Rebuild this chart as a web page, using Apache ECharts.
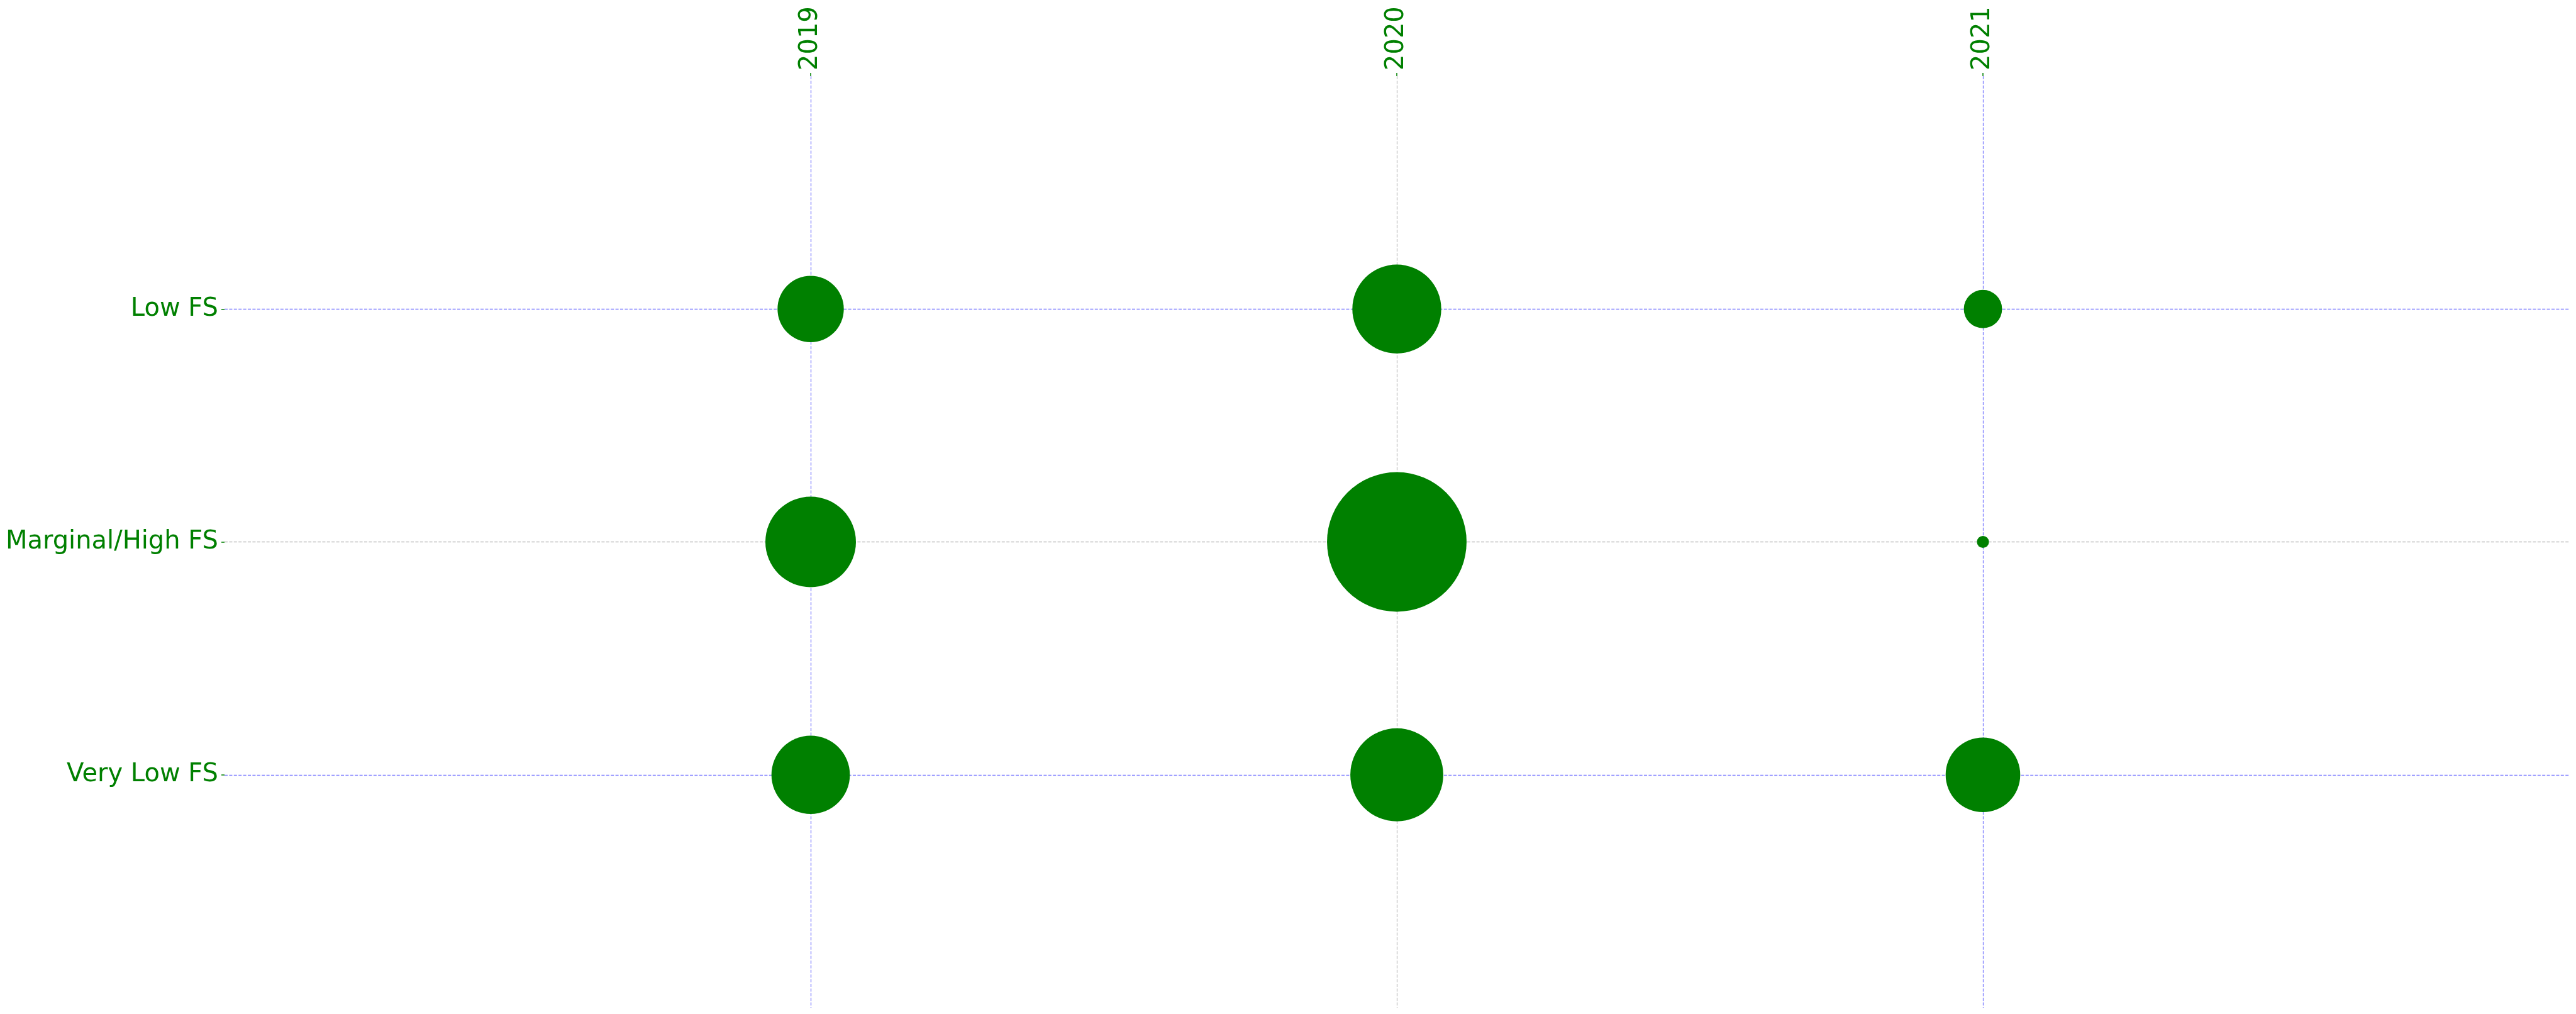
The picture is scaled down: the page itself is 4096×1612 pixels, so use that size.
<!DOCTYPE html>
<html>
<head>
<meta charset="utf-8">
<script src="https://cdn.jsdelivr.net/npm/echarts@6/dist/echarts.min.js"></script>
<style>
  html, body { margin: 0; padding: 0; background: #ffffff; }
  #chart { width: 4096px; height: 1612px; }
</style>
</head>
<body>
<div id="chart"></div>
<script>
// Categories
var years = ['2019', '2020', '2021'];
var levels = ['Low FS', 'Marginal/High FS', 'Very Low FS']; // top to bottom

// Values (per level, per year)
var lowFS = [30, 54, 10];
var marginalHighFS = [56, 133, 1];
var veryLowFS = [42, 59, 38];

var seriesValues = [lowFS, marginalHighFS, veryLowFS];

// Axis data padded with empty slots so the categories sit at 1..3 of a 0..4 range
var xData = [''].concat(years, ['']);
var yData = [''].concat(levels, ['']);

var points = [];
seriesValues.forEach(function (row, li) {
  row.forEach(function (v, yi) {
    points.push([years[yi], levels[li], v]);
  });
});

var BLUE = '#8080ff';
var GRAY = '#c0c0c0';
var gridColors = [BLUE, GRAY, BLUE];

var markData = [];
levels.forEach(function (l, i) {
  markData.push({ yAxis: l, lineStyle: { color: gridColors[i % gridColors.length] } });
});
years.forEach(function (y, i) {
  markData.push({ xAxis: y, lineStyle: { color: gridColors[i % gridColors.length] } });
});

var chart = echarts.init(document.getElementById('chart'), null, { renderer: 'canvas' });
var GREEN = '#008000';
var FONT = 'DejaVu Sans';

chart.setOption({
  animation: false,
  backgroundColor: '#ffffff',
  grid: { left: 357, right: 11, top: 121, bottom: 10, containLabel: false },
  xAxis: {
    type: 'category',
    position: 'top',
    data: xData,
    boundaryGap: false,
    axisLine: { show: false },
    axisTick: {
      show: true, length: 5, inside: false,
      interval: function (i, v) { return v !== ''; },
      lineStyle: { color: GREEN, width: 1.5 }
    },
    axisLabel: {
      rotate: -90, margin: 9, color: GREEN, fontSize: 40, fontFamily: FONT,
      interval: function (i, v) { return v !== ''; }
    },
    splitLine: { show: false }
  },
  yAxis: {
    type: 'category',
    data: yData,
    inverse: true,
    boundaryGap: false,
    axisLine: { show: false },
    axisTick: {
      show: true, length: 5, inside: false,
      interval: function (i, v) { return v !== ''; },
      lineStyle: { color: GREEN, width: 1.5 }
    },
    axisLabel: {
      margin: 10, color: GREEN, fontSize: 40, fontFamily: FONT,
      padding: [8, 0, 0, 0],
      interval: function (i, v) { return v !== ''; }
    },
    splitLine: { show: false }
  },
  series: [
    {
      type: 'scatter',
      data: [],
      z: 1,
      silent: true,
      markLine: {
        z: 1,
        silent: true,
        animation: false,
        symbol: ['none', 'none'],
        label: { show: false },
        lineStyle: { type: [5, 2.4], width: 1.3 },
        emphasis: { disabled: true },
        data: markData
      }
    },
    {
      type: 'scatter',
      z: 3,
      data: points,
      symbol: 'circle',
      symbolSize: function (d) { return Math.sqrt(d[2]) * 20 * 0.962; },
      itemStyle: { color: GREEN, opacity: 1 }
    }
  ]
});
</script>
</body>
</html>
